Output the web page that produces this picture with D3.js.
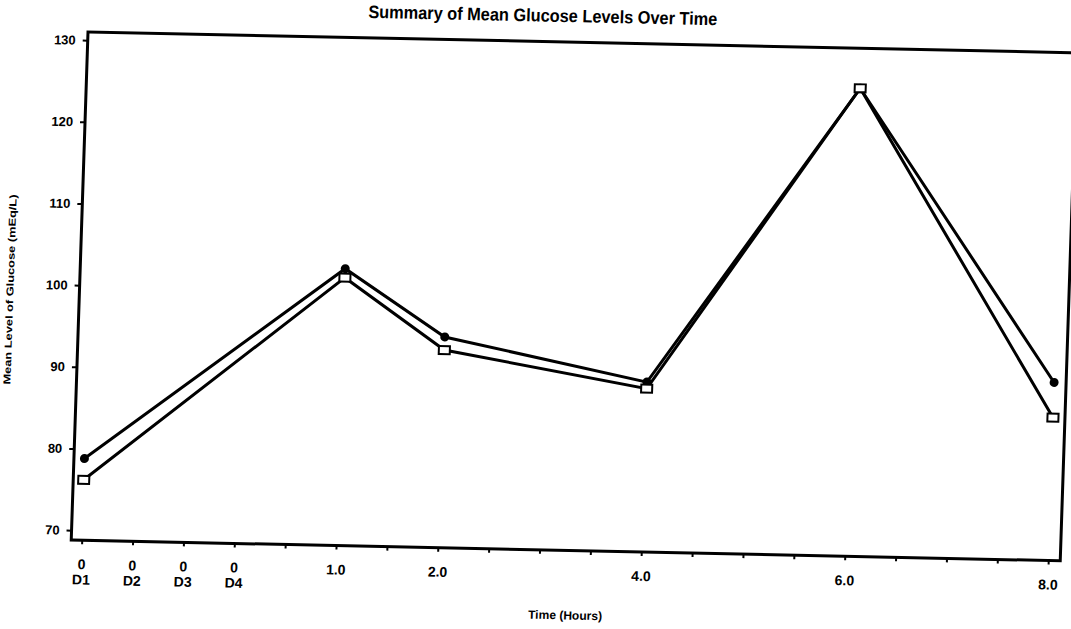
<!DOCTYPE html>
<html lang="en">
<head>
    <meta charset="UTF-8">
    <title>Summary of Mean Glucose Levels Over Time</title>
    <script src="https://cdnjs.cloudflare.com/ajax/libs/d3/7.8.5/d3.min.js"></script>
    <style>
        body{margin:0; background:#fff;}
        svg{display:block;}
        text{font-family:"Liberation Sans", Arial, sans-serif; font-weight:bold; fill:#000;}
    </style>
</head>
<body>
    <svg id="chart" width="1071" height="629"></svg>
    <script>
        // x slots: four pre-dose samples then half-hour steps
        var slots = ["D1","D2","D3","D4","0.5","1.0","1.5","2.0","2.5","3.0","3.5","4.0","4.5","5.0","5.5","6.0","6.5","7.0","7.5","8.0"];
        var labeledSlots = ["D1","D2","D3","D4","1.0","2.0","4.0","6.0","8.0"];
        var timePoints = ["D1","1.0","2.0","4.0","6.0","8.0"];
        var seriesCircle = [78.8, 102.7, 94.6, 89.6, 126.1, 90.6];
        var seriesSquare = [76.2, 101.6, 93.0, 88.8, 126.1, 86.3];
        var yTicks = [70, 80, 90, 100, 110, 120, 130];

        var width = 989;
        var height = 508;

        var svg = d3.select("#chart");
        // the scanned page is slightly tilted
        var g = svg.append("g")
                   .attr("transform","matrix(1,0.021,-0.033,1,88,32)");

        var xScale = d3.scalePoint()
                       .domain(slots)
                       .range([10.5, 977]);

        var yScale = d3.scaleLinear()
                       .domain([68.8, 131])
                       .range([height, 0]);

        // frame
        g.append("rect")
         .attr("width", width)
         .attr("height", height)
         .attr("fill","none")
         .attr("stroke","#000")
         .attr("stroke-width",3);

        var xAxis = d3.axisBottom(xScale)
                      .tickSize(4)
                      .tickPadding(15)
                      .tickFormat(function(d){ return labeledSlots.indexOf(d) >= 0 ? d : ""; });

        var xg = g.append("g")
                  .attr("transform","translate(0,"+height+")")
                  .call(xAxis);
        xg.select(".domain").remove();
        xg.selectAll(".tick line").attr("stroke-width",2);
        xg.selectAll(".tick text")
          .style("font-size","14px")
          .each(function(d){
              if (d.charAt(0) == "D") {
                  var t = d3.select(this);
                  t.text(null);
                  t.append("tspan").attr("x",0).text("0");
                  t.append("tspan").attr("x",0).attr("dy","1.1em").text(d);
              }
          });

        var yAxis = d3.axisLeft(yScale)
                      .tickValues(yTicks)
                      .tickSize(5)
                      .tickPadding(7);
        var yg = g.append("g").call(yAxis);
        yg.select(".domain").remove();
        yg.selectAll(".tick line").attr("stroke-width",2);
        yg.selectAll(".tick text").style("font-size","13px");

        // titles
        g.append("text")
         .attr("x", 454)
         .attr("y", -20)
         .attr("text-anchor","middle")
         .attr("textLength", 349)
         .attr("lengthAdjust","spacingAndGlyphs")
         .style("font-size","18px")
         .text("Summary of Mean Glucose Levels Over Time");

        g.append("text")
         .attr("x", 496)
         .attr("y", 577)
         .attr("text-anchor","middle")
         .attr("textLength", 74)
         .attr("lengthAdjust","spacingAndGlyphs")
         .style("font-size","12px")
         .text("Time (Hours)");

        g.append("text")
         .attr("transform","translate(-66,259) rotate(-90)")
         .attr("text-anchor","middle")
         .attr("textLength", 190)
         .attr("lengthAdjust","spacingAndGlyphs")
         .style("font-size","10px")
         .text("Mean Level of Glucose (mEq/L)");

        var line = d3.line()
                     .x(function(d,i){ return xScale(timePoints[i]); })
                     .y(function(d){ return yScale(d); });

        g.append("path")
         .datum(seriesCircle)
         .attr("d", line)
         .attr("fill","none")
         .attr("stroke","#000")
         .attr("stroke-width",3);

        g.append("path")
         .datum(seriesSquare)
         .attr("d", line)
         .attr("fill","none")
         .attr("stroke","#000")
         .attr("stroke-width",3);

        g.selectAll("circle")
         .data(seriesCircle)
         .enter()
         .append("circle")
         .attr("cx",function(d,i){ return xScale(timePoints[i]); })
         .attr("cy",function(d){ return yScale(d); })
         .attr("r",4.5)
         .attr("fill","#000");

        g.selectAll("rect.sq")
         .data(seriesSquare)
         .enter()
         .append("rect")
         .attr("class","sq")
         .attr("x",function(d,i){ return xScale(timePoints[i]) - 5.5; })
         .attr("y",function(d){ return yScale(d) - 4; })
         .attr("width",11)
         .attr("height",8)
         .attr("fill","#fff")
         .attr("stroke","#000")
         .attr("stroke-width",2);
    </script>
</body>
</html>
